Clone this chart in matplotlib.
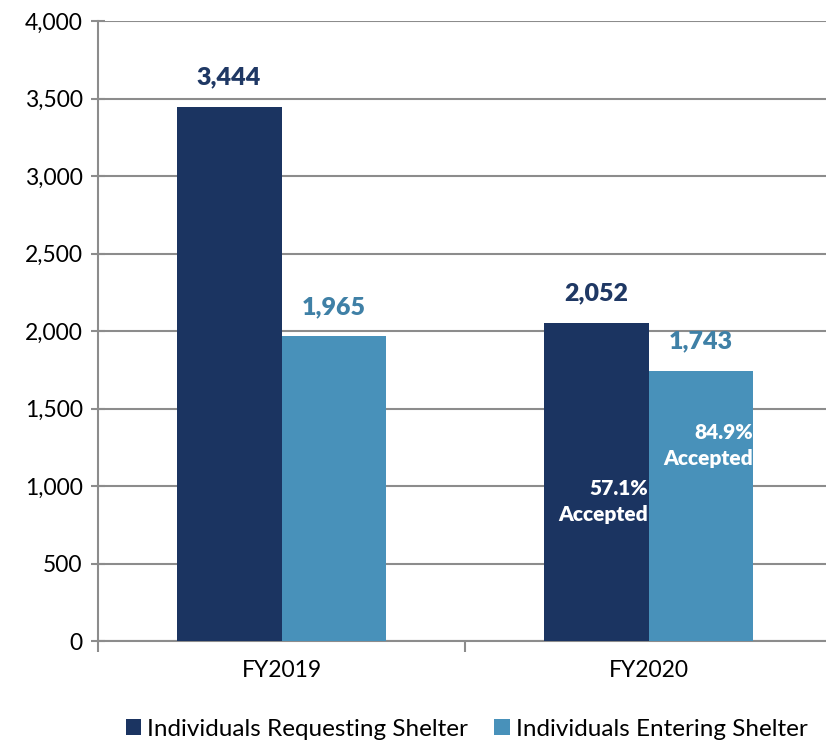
import numpy as np
import matplotlib.pyplot as plt
from matplotlib.ticker import FuncFormatter, MultipleLocator

years = ["FY2019", "FY2020"]
requesting = [3444, 2052]
entering = [1965, 1743]
accepted_labels = ["57.1%\nAccepted", "84.9%\nAccepted"]
accepted_y = [900, 1260]

dark = "#1B3461"
light = "#4891BA"
dark_txt = "#1F3864"
light_txt = "#3F80A6"

plt.rcParams['font.family'] = ['Lato', 'DejaVu Sans']

fig = plt.figure(figsize=(8.26, 7.47), dpi=100)
ax = fig.add_axes([98 / 826, 106 / 747, 734 / 826, 620 / 747])

x = np.arange(len(years))
w = 0.286
ax.bar(x - w / 2, requesting, w, color=dark, label="Individuals Requesting Shelter", zorder=3)
ax.bar(x + w / 2, entering, w, color=light, label="Individuals Entering Shelter", zorder=3)

for i in range(len(years)):
    ax.text(x[i] - w / 2, requesting[i] + 120, f"{requesting[i]:,}", ha='center', va='bottom',
            fontsize=18, fontweight='heavy', color=dark_txt)
    ax.text(x[i] + w / 2, entering[i] + 120, f"{entering[i]:,}", ha='center', va='bottom',
            fontsize=18, fontweight='heavy', color=light_txt)

# the percentage notes sit on the FY2020 bars
ax.text(x[1], accepted_y[0], accepted_labels[0], ha='right', va='center', multialignment='right',
        fontsize=15, fontweight='heavy', color='white', zorder=4, linespacing=1.45)
ax.text(x[1] + w, accepted_y[1], accepted_labels[1], ha='right', va='center', multialignment='right',
        fontsize=15, fontweight='heavy', color='white', zorder=4, linespacing=1.45)

ax.set_ylim(0, 4000)
ax.set_xlim(-0.5, 1.5)
ax.yaxis.set_major_locator(MultipleLocator(500))
ax.yaxis.set_major_formatter(FuncFormatter(lambda v, p: f"{int(v):,}"))
ax.grid(axis='y', color='#8C8C8C', linewidth=1.5, zorder=0)

ax.set_xticks(x)
ax.set_xticklabels(years, fontsize=16.5)
ax.set_xticks([-0.5, 0.5, 1.5], minor=True)
ax.tick_params(axis='x', which='major', length=0, pad=14)
ax.tick_params(axis='x', which='minor', length=8, width=1.5, color='#8C8C8C', direction='out')
ax.tick_params(axis='y', labelsize=16.5, length=10, width=1.5, color='#8C8C8C', direction='inout', pad=6)

for s in ['top', 'right']:
    ax.spines[s].set_visible(False)
for s in ['left', 'bottom']:
    ax.spines[s].set_color('#8C8C8C')
    ax.spines[s].set_linewidth(1.5)

ax.legend(loc='upper center', bbox_to_anchor=(0.502, -0.09), ncol=2, frameon=False,
          fontsize=17.5, handlelength=0.65, handleheight=0.65, handletextpad=0.25, columnspacing=1.05)

fig.savefig("out.png", dpi=100)
